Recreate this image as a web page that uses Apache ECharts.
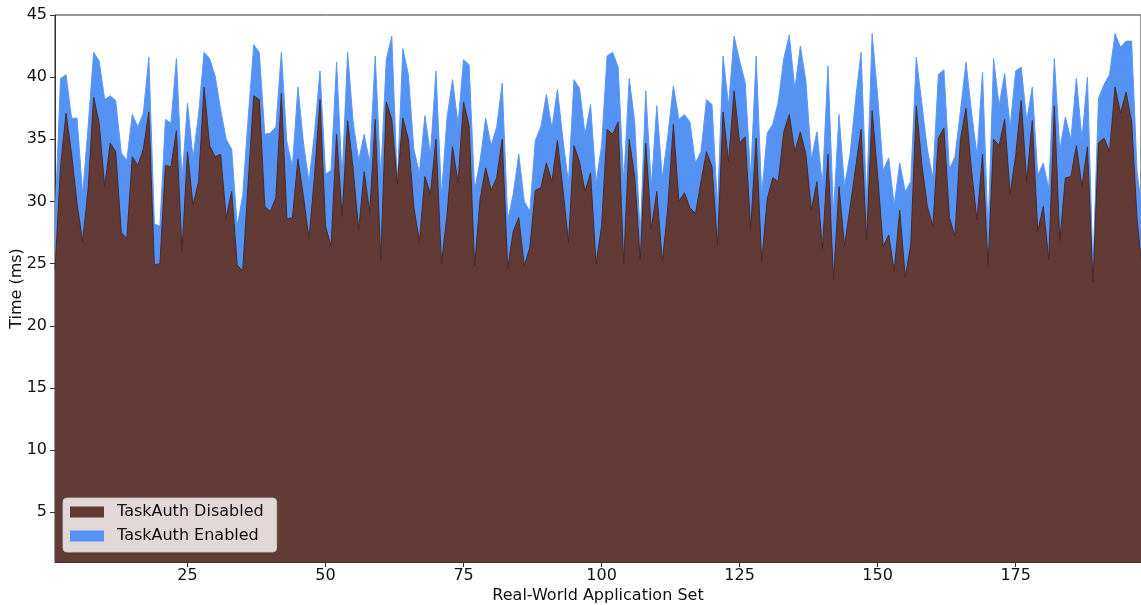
<!DOCTYPE html>
<html>
<head>
<meta charset="utf-8">
<script src="https://cdn.jsdelivr.net/npm/echarts@6/dist/echarts.min.js"></script>
<style>
  html, body { margin: 0; padding: 0; background: #fff; }
  #chart { width: 1141px; height: 605px; }
</style>
</head>
<body>
<div id="chart"></div>
<script>
// Per-application timing (ms), one value per application, index 1..198
const enabledMs = [
  28.5, 39.9, 40.2, 36.7, 36.7, 30.6, 36.0, 42.0, 41.3, 38.2,
  38.5, 38.1, 33.9, 33.3, 37.0, 36.0, 37.1, 41.6, 28.2, 28.0,
  36.6, 36.3, 41.5, 31.7, 37.9, 33.5, 37.0, 42.0, 41.5, 40.1,
  37.4, 35.0, 34.2, 28.0, 30.5, 36.8, 42.6, 42.0, 35.4, 35.5,
  36.0, 42.0, 34.8, 32.8, 39.2, 34.7, 31.6, 35.5, 40.5, 32.2,
  32.5, 41.2, 31.9, 42.0, 36.4, 33.3, 35.4, 33.1, 41.7, 32.0,
  41.4, 43.3, 31.5, 42.3, 40.2, 34.2, 32.3, 36.9, 33.8, 40.5,
  30.5, 36.7, 39.8, 36.2, 41.4, 41.0, 30.9, 33.3, 36.7, 34.5,
  36.0, 39.5, 28.5, 30.6, 33.8, 30.0, 29.2, 34.9, 36.0, 38.6,
  35.9, 39.0, 35.0, 31.5, 39.8, 39.1, 35.4, 37.8, 31.5, 34.5,
  41.7, 42.0, 40.8, 31.5, 39.9, 36.4, 27.2, 38.9, 31.2, 37.7,
  31.9, 35.3, 39.3, 36.6, 37.0, 36.4, 33.1, 34.0, 38.2, 37.8,
  29.5, 41.7, 37.7, 43.3, 41.3, 39.6, 32.0, 41.7, 30.5, 35.5,
  36.2, 38.0, 41.5, 43.4, 39.0, 42.5, 39.7, 33.4, 35.6, 31.3,
  40.9, 29.0, 37.0, 31.2, 33.8, 38.2, 42.0, 30.0, 43.5, 38.5,
  32.5, 33.5, 29.7, 33.1, 30.8, 31.6, 41.6, 37.9, 34.2, 31.9,
  40.2, 40.6, 32.6, 33.6, 37.3, 41.2, 37.2, 33.7, 40.4, 27.5,
  41.5, 37.7, 40.3, 36.0, 40.5, 40.8, 36.5, 39.2, 32.1, 33.1,
  31.0, 41.5, 34.1, 36.8, 35.0, 39.9, 35.0, 40.0, 24.5, 38.3,
  39.4, 40.2, 43.5, 42.4, 42.9, 42.9, 32.3, 29.0
];

const disabledMs = [
  24.5, 32.8, 37.1, 33.8, 29.8, 26.8, 31.0, 38.4, 36.3, 31.2,
  34.7, 34.0, 27.5, 27.0, 33.6, 32.9, 34.2, 37.2, 24.9, 25.0,
  32.9, 32.8, 35.7, 26.0, 34.0, 29.7, 31.6, 39.2, 34.5, 33.6,
  33.8, 28.7, 30.8, 24.9, 24.4, 31.6, 38.5, 38.2, 29.6, 29.2,
  30.3, 38.7, 28.6, 28.7, 33.4, 30.4, 27.0, 32.0, 38.2, 28.0,
  26.4, 35.4, 28.8, 36.5, 32.6, 27.7, 32.4, 29.1, 36.6, 25.3,
  38.0, 36.6, 31.4, 36.7, 35.0, 29.5, 26.8, 32.0, 30.6, 35.0,
  25.0, 28.9, 34.4, 31.5, 38.0, 36.1, 24.8, 30.2, 32.7, 30.9,
  31.9, 35.0, 24.6, 27.6, 28.7, 24.8, 26.3, 30.9, 31.1, 33.1,
  31.6, 34.9, 31.0, 26.7, 34.5, 33.2, 30.8, 32.3, 25.0, 28.0,
  35.8, 35.4, 36.4, 25.0, 35.0, 32.0, 25.3, 34.7, 27.8, 30.8,
  25.1, 29.5, 36.2, 30.0, 30.7, 29.5, 29.0, 31.6, 34.0, 32.8,
  26.4, 37.2, 33.2, 38.9, 34.7, 35.2, 27.8, 35.1, 25.1, 30.2,
  31.9, 31.6, 35.6, 37.0, 34.0, 35.6, 33.8, 29.3, 31.6, 26.2,
  33.8, 23.7, 31.2, 26.4, 29.5, 32.7, 35.8, 26.9, 37.3, 32.1,
  26.4, 27.3, 24.4, 29.3, 23.9, 26.5, 37.7, 33.0, 29.6, 28.0,
  35.1, 35.9, 28.7, 27.2, 35.0, 37.5, 32.5, 28.5, 33.8, 24.8,
  35.0, 34.5, 36.6, 30.6, 33.7, 38.1, 31.6, 36.5, 27.6, 29.6,
  25.3, 37.7, 26.8, 31.9, 32.0, 34.5, 31.2, 34.4, 23.5, 34.7,
  35.1, 34.0, 39.2, 37.1, 38.8, 36.4, 28.5, 24.2
];

const xTicks = [25, 50, 75, 100, 125, 150, 175];
const yTicks = [5, 10, 15, 20, 25, 30, 35, 40, 45];

const seriesNames = ['TaskAuth Disabled', 'TaskAuth Enabled'];
const brown = '#633b36';
const blue = '#5492f4';

const toPairs = arr => arr.map((v, i) => [i + 1, v]);

const font = 'DejaVu Sans';
const chart = echarts.init(document.getElementById('chart'), null, { renderer: 'canvas' });

chart.setOption({
  animation: false,
  backgroundColor: '#fff',
  grid: {
    left: 55, top: 15, right: 0, bottom: 43,
    outerBoundsMode: 'none',
    containLabel: false,
    show: true, borderColor: '#333', borderWidth: 1,
    backgroundColor: 'transparent'
  },
  legend: {
    data: seriesNames,
    orient: 'vertical',
    left: 63, top: 498,
    icon: 'rect',
    itemWidth: 34, itemHeight: 11,
    itemGap: 8,
    padding: [6, 13, 8, 7],
    backgroundColor: 'rgba(255,255,255,0.8)',
    borderColor: 'rgba(204,204,204,0.8)',
    borderWidth: 1,
    borderRadius: 4,
    textStyle: { fontFamily: font, fontSize: 16, color: '#111', padding: [0, 0, 0, 8] }
  },
  xAxis: {
    type: 'value',
    min: 1, max: 197.7,
    name: 'Real-World Application Set',
    nameLocation: 'middle',
    nameGap: 26,
    nameMoveOverlap: false,
    nameTextStyle: { fontFamily: font, fontSize: 16, color: '#111' },
    axisLine: { show: true, lineStyle: { color: '#333', width: 1 } },
    axisTick: { show: true, length: 5, lineStyle: { color: '#333' }, customValues: xTicks },
    axisLabel: { fontFamily: font, fontSize: 16, color: '#111', margin: 6, customValues: xTicks },
    splitLine: { show: false }
  },
  yAxis: {
    type: 'value',
    min: 1, max: 45,
    name: 'Time (ms)',
    nameLocation: 'middle',
    nameGap: 30,
    nameMoveOverlap: false,
    nameTextStyle: { fontFamily: font, fontSize: 16, color: '#111' },
    axisLine: { show: true, lineStyle: { color: '#333', width: 1 } },
    axisTick: { show: true, length: 5, lineStyle: { color: '#333' }, customValues: yTicks },
    axisLabel: { fontFamily: font, fontSize: 16, color: '#111', margin: 8, customValues: yTicks },
    splitLine: { show: false }
  },
  series: [
    {
      name: seriesNames[1],
      type: 'line',
      data: toPairs(enabledMs),
      symbol: 'none',
      z: 1,
      itemStyle: { color: blue },
      lineStyle: { color: '#5b97f5', width: 1 },
      areaStyle: { color: blue, opacity: 1, origin: 'start' }
    },
    {
      name: seriesNames[0],
      type: 'line',
      data: toPairs(disabledMs),
      symbol: 'none',
      z: 2,
      itemStyle: { color: brown },
      lineStyle: { color: '#4a2b28', width: 1 },
      areaStyle: { color: brown, opacity: 1, origin: 'start' }
    }
  ]
});
</script>
</body>
</html>
